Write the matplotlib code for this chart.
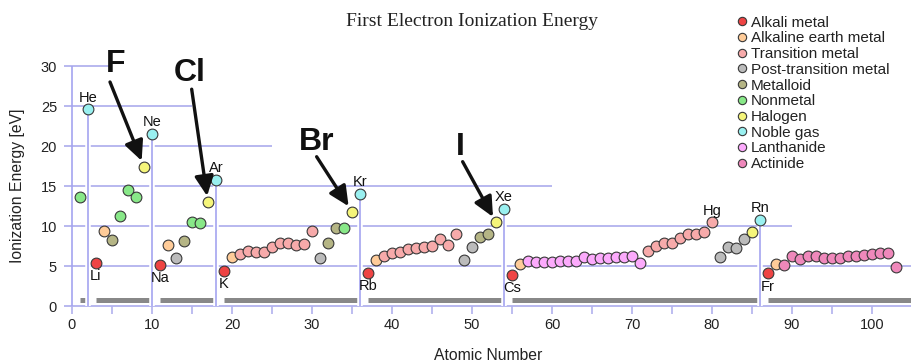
import matplotlib
matplotlib.use("Agg")
import matplotlib.pyplot as plt
from matplotlib.lines import Line2D
from matplotlib.patches import ArrowStyle
import numpy as np

plt.rcParams['font.family'] = ['Liberation Sans', 'DejaVu Sans']

# ---------------- data ----------------
symbols = ["H", "He", "Li", "Be", "B", "C", "N", "O", "F", "Ne",
           "Na", "Mg", "Al", "Si", "P", "S", "Cl", "Ar", "K", "Ca",
           "Sc", "Ti", "V", "Cr", "Mn", "Fe", "Co", "Ni", "Cu", "Zn",
           "Ga", "Ge", "As", "Se", "Br", "Kr", "Rb", "Sr", "Y", "Zr",
           "Nb", "Mo", "Tc", "Ru", "Rh", "Pd", "Ag", "Cd", "In", "Sn",
           "Sb", "Te", "I", "Xe", "Cs", "Ba", "La", "Ce", "Pr", "Nd",
           "Pm", "Sm", "Eu", "Gd", "Tb", "Dy", "Ho", "Er", "Tm", "Yb",
           "Lu", "Hf", "Ta", "W", "Re", "Os", "Ir", "Pt", "Au", "Hg",
           "Tl", "Pb", "Bi", "Po", "At", "Rn", "Fr", "Ra", "Ac", "Th",
           "Pa", "U", "Np", "Pu", "Am", "Cm", "Bk", "Cf", "Es", "Fm",
           "Md", "No", "Lr"]
atomic_numbers = np.arange(1, len(symbols) + 1)
energies = [13.60, 24.59, 5.39, 9.32, 8.30, 11.26, 14.53, 13.62, 17.42, 21.56,
            5.14, 7.65, 5.99, 8.15, 10.49, 10.36, 12.97, 15.76, 4.34, 6.11,
            6.56, 6.83, 6.75, 6.77, 7.43, 7.90, 7.88, 7.64, 7.73, 9.39,
            6.00, 7.90, 9.79, 9.75, 11.81, 14.00, 4.18, 5.69, 6.22, 6.63,
            6.76, 7.09, 7.28, 7.36, 7.46, 8.34, 7.58, 8.99, 5.79, 7.34,
            8.61, 9.01, 10.45, 12.13, 3.89, 5.21, 5.58, 5.54, 5.47, 5.53,
            5.58, 5.64, 5.67, 6.15, 5.86, 5.94, 6.02, 6.11, 6.18, 6.25,
            5.43, 6.83, 7.55, 7.86, 7.83, 8.44, 8.97, 8.96, 9.23, 10.44,
            6.11, 7.42, 7.29, 8.42, 9.30, 10.75, 4.07, 5.28, 5.17, 6.31,
            5.89, 6.19, 6.27, 6.03, 5.97, 5.99, 6.20, 6.28, 6.42, 6.50,
            6.58, 6.65, 4.90]
element_category = (["NM", "NG", "AM", "AE", "ML", "NM", "NM", "NM", "HA", "NG",
                     "AM", "AE", "PT", "ML", "NM", "NM", "HA", "NG", "AM", "AE"]
                    + ["TM"] * 10
                    + ["PT", "ML", "ML", "NM", "HA", "NG", "AM", "AE"]
                    + ["TM"] * 10
                    + ["PT", "PT", "ML", "ML", "HA", "NG", "AM", "AE"]
                    + ["LA"] * 15
                    + ["TM"] * 9
                    + ["PT", "PT", "PT", "PT", "HA", "NG", "AM", "AE"]
                    + ["AC"] * 15)

category_codes = ["AM", "AE", "TM", "PT", "ML", "NM", "HA", "NG", "LA", "AC"]
category_names = ["Alkali metal", "Alkaline earth metal", "Transition metal",
                  "Post-transition metal", "Metalloid", "Nonmetal", "Halogen",
                  "Noble gas", "Lanthanide", "Actinide"]
category_colors = ["#ee4444", "#ffcc99", "#f7aaaa", "#bbbbbb", "#b5b585",
                   "#88e888", "#f5f57a", "#99f0f0", "#fcaafc", "#ef88bb"]

noble_gases = [2, 10, 18, 36, 54, 86]
period_starts = [1, 3, 11, 19, 37, 55, 87]
period_ends = [2, 10, 18, 36, 54, 86, 105]

top_labels = [2, 10, 18, 36, 54, 86, 80]
bottom_labels = [3, 11, 19, 37, 55, 87]

callout_elements = [9, 17, 35, 53]
callout_text_pos = [(5.4, 29.3), (14.75, 28.1), (30.6, 19.5), (48.6, 18.9)]
callout_tail_pos = [(4.75, 28.0), (14.96, 27.1), (30.58, 18.66), (48.83, 18.04)]

grid_levels = [5, 10, 15, 20, 25, 30]
grid_extents = [105, 90, 60, 25, 15, 5]

# ---------------- figure ----------------
W, H = 912, 363
fig = plt.figure(figsize=(W / 100, H / 100), dpi=100)
ax = fig.add_axes([64 / W, (H - 306) / H, 848 / W, 266 / H])
ax.set_xlim(-1, 105)
ax.set_ylim(0, 33.25)
for s in ax.spines.values():
    s.set_visible(False)

grid_color = "#b2b2ee"
line_color = "#a4a4f0"
ax.hlines(grid_levels, [-1] * len(grid_levels), grid_extents,
          color=grid_color, lw=1.3, zorder=1)
ax.hlines(0, -1, 105, color=grid_color, lw=1.3, zorder=1, clip_on=False)
ax.vlines(0, 0, 30, color=line_color, lw=1.2, zorder=1)

E = np.array(energies)
Z = atomic_numbers
noble_E = [E[z - 1] for z in noble_gases]
ax.vlines(noble_gases, [0] * len(noble_gases), noble_E, color="white", lw=4, zorder=1.6)
ax.vlines(noble_gases, [0] * len(noble_gases), noble_E, color=line_color, lw=1.2, zorder=1.7)

bar_ends = [e - 0.15 if e < 105 else e for e in period_ends]
ax.hlines([0.7] * len(period_starts), period_starts, bar_ends,
          color="#888888", lw=3.6, zorder=1.5)

cats = np.array(element_category)
for code, color in zip(category_codes, category_colors):
    m = cats == code
    ax.scatter(Z[m], E[m], s=60, c=color, edgecolors="#383838",
               linewidths=0.8, zorder=3, clip_on=False)

for z in top_labels:
    ax.annotate(symbols[z - 1], (z, E[z - 1]), xytext=(0, 5.6),
                textcoords="offset points", ha="center", va="baseline",
                fontsize=10.5, color="#111111", zorder=4)
for z in bottom_labels:
    ax.annotate(symbols[z - 1], (z, E[z - 1]), xytext=(0, -12.3),
                textcoords="offset points", ha="center", va="baseline",
                fontsize=10.5, color="#111111", zorder=4)

astyle = ArrowStyle("-|>", head_length=0.8, head_width=0.38)
for z, tpos, tail in zip(callout_elements, callout_text_pos, callout_tail_pos):
    ax.text(tpos[0], tpos[1], symbols[z - 1], ha="center", va="baseline",
            fontsize=23, fontweight="bold", color="#111111", zorder=5)
    ax.annotate("", xy=(z, E[z - 1]), xytext=tail,
                arrowprops=dict(arrowstyle=astyle, lw=2.4, color="#111111",
                                shrinkA=0, shrinkB=4.5, mutation_scale=15),
                zorder=5)

ax.set_xticks(range(0, 101, 10))
ax.set_xticks(range(5, 101, 10), minor=True)
ax.tick_params(axis="x", which="both", length=5.8, width=1.2, color=grid_color,
               labelsize=10.5, pad=2.5, labelcolor="#222222")
ax.set_yticks(range(0, 31, 5))
ax.tick_params(axis="y", length=0, pad=5, labelsize=10.5, labelcolor="#222222")

ax.set_xlabel("Atomic Number", fontsize=11.3, color="#222222", labelpad=11.5)
ax.set_ylabel("Ionization Energy [eV]", fontsize=11.3, color="#222222")
ax.yaxis.set_label_coords(-0.046, (306 - 186) / 266)

fig.text(472 / W, 1 - 26 / H, "First Electron Ionization Energy",
         family=["Liberation Serif", "DejaVu Serif"], fontsize=14,
         ha="center", va="baseline", color="#222222")

handles = [Line2D([], [], ls="", marker="o", markersize=6,
                  markerfacecolor=c, markeredgecolor="#383838",
                  markeredgewidth=0.8) for c in category_colors]
ax.legend(handles, category_names, loc="upper left",
          bbox_to_anchor=(737 / W, 1 - 15.8 / H), bbox_transform=fig.transFigure,
          frameon=False, fontsize=11, handlelength=0.7, handletextpad=0.2,
          labelspacing=0.11, borderpad=0, borderaxespad=0, labelcolor="#222222")

fig.savefig("out.png", dpi=100)
